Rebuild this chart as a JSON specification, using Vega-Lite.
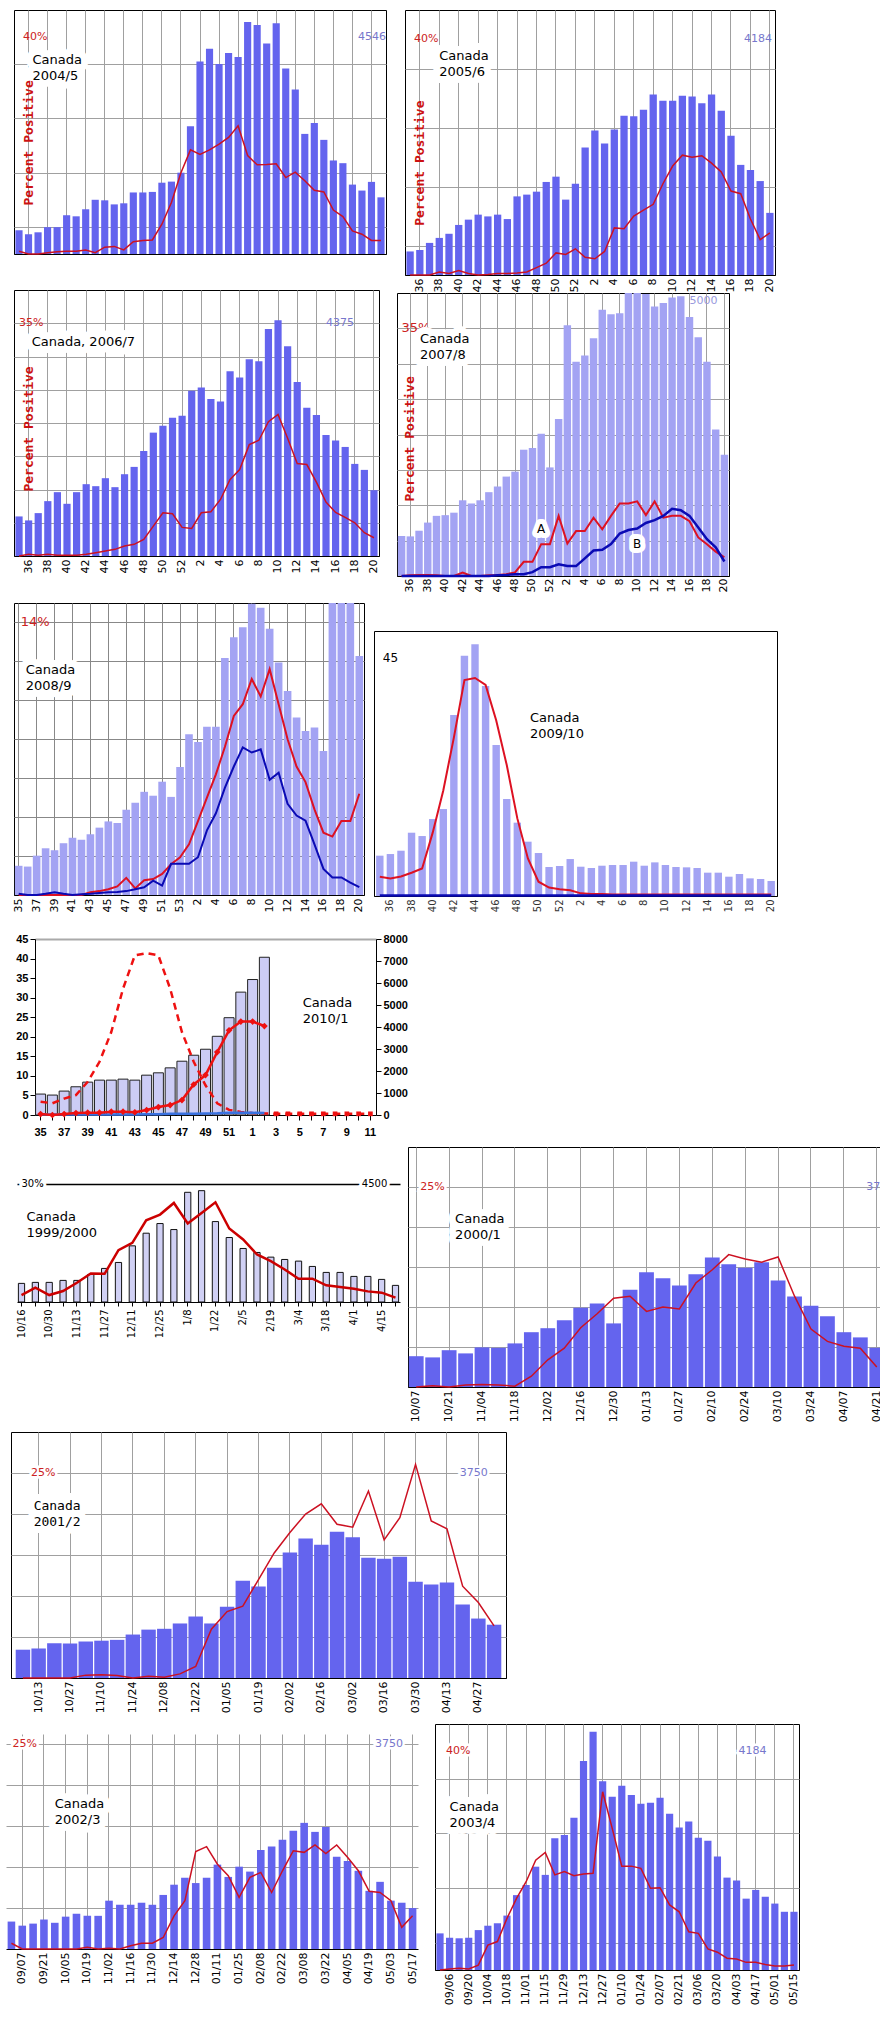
{
  "$schema": "https://vega.github.io/schema/vega-lite/v6.json",
  "background": "white",
  "padding": {"left": 3, "top": 7, "right": 0, "bottom": 0},
  "config": {"view": {"stroke": null}, "line": {"interpolate": "linear"}},
  "datasets": {
    "p1": [
      {"w":"35","b":0.88,"r":0.1},{"w":"36","b":0.73,"r":0},{"w":"37","b":0.8,"r":0},{"w":"38","b":0.99,"r":0.05},{"w":"39","b":0.99,"r":0.08},{"w":"40","b":1.43,"r":0.1},{"w":"41","b":1.39,"r":0.1},{"w":"42","b":1.65,"r":0.15},{"w":"43","b":2.0,"r":0.05},{"w":"44","b":1.98,"r":0.25},{"w":"45","b":1.83,"r":0.28},{"w":"46","b":1.87,"r":0.15},{"w":"47","b":2.27,"r":0.45},{"w":"48","b":2.27,"r":0.5},{"w":"49","b":2.29,"r":0.52},{"w":"50","b":2.63,"r":1.1},{"w":"51","b":2.67,"r":1.9},{"w":"52","b":3.0,"r":3.0},{"w":"53","b":4.71,"r":3.84},{"w":"1","b":7.1,"r":3.67},{"w":"2","b":7.57,"r":3.84},{"w":"3","b":7.01,"r":4.05},{"w":"4","b":7.41,"r":4.3},{"w":"5","b":7.27,"r":4.73},{"w":"6","b":8.56,"r":3.63},{"w":"7","b":8.45,"r":3.29},{"w":"8","b":7.76,"r":3.3},{"w":"9","b":8.51,"r":3.33},{"w":"10","b":6.84,"r":2.82},{"w":"11","b":6.07,"r":3.02},{"w":"12","b":4.43,"r":2.7},{"w":"13","b":4.83,"r":2.35},{"w":"14","b":4.21,"r":2.29},{"w":"15","b":3.45,"r":1.62},{"w":"16","b":3.35,"r":1.38},{"w":"17","b":2.56,"r":0.85},{"w":"18","b":2.34,"r":0.73},{"w":"19","b":2.66,"r":0.5},{"w":"20","b":2.09,"r":0.5}
    ],
    "p2": [
      {"w":"35","b":0.8,"r":0},{"w":"36","b":0.85,"r":0},{"w":"37","b":1.09,"r":0},{"w":"38","b":1.26,"r":0.1},{"w":"39","b":1.4,"r":0.05},{"w":"40","b":1.7,"r":0.15},{"w":"41","b":1.88,"r":0.05},{"w":"42","b":2.05,"r":0},{"w":"43","b":1.99,"r":0.02},{"w":"44","b":2.05,"r":0.05},{"w":"45","b":1.9,"r":0.05},{"w":"46","b":2.67,"r":0.07},{"w":"47","b":2.73,"r":0.1},{"w":"48","b":2.83,"r":0.25},{"w":"49","b":3.16,"r":0.4},{"w":"50","b":3.34,"r":0.75},{"w":"51","b":2.56,"r":0.7},{"w":"52","b":3.1,"r":0.89},{"w":"1","b":4.33,"r":0.6},{"w":"2","b":4.91,"r":0.55},{"w":"3","b":4.47,"r":0.8},{"w":"4","b":4.94,"r":1.6},{"w":"5","b":5.41,"r":1.57},{"w":"6","b":5.39,"r":2.0},{"w":"7","b":5.61,"r":2.2},{"w":"8","b":6.13,"r":2.4},{"w":"9","b":5.92,"r":3.1},{"w":"10","b":5.92,"r":3.7},{"w":"11","b":6.09,"r":4.07},{"w":"12","b":6.06,"r":4.0},{"w":"13","b":5.83,"r":4.05},{"w":"14","b":6.13,"r":3.8},{"w":"15","b":5.58,"r":3.5},{"w":"16","b":4.73,"r":2.85},{"w":"17","b":3.74,"r":2.76},{"w":"18","b":3.57,"r":1.9},{"w":"19","b":3.19,"r":1.2},{"w":"20","b":2.11,"r":1.43}
    ],
    "p3": [
      {"w":"35","b":1.19,"r":0},{"w":"36","b":1.07,"r":0.05},{"w":"37","b":1.29,"r":0.02},{"w":"38","b":1.65,"r":0.05},{"w":"39","b":1.92,"r":0.02},{"w":"40","b":1.57,"r":0.02},{"w":"41","b":1.92,"r":0.02},{"w":"42","b":2.16,"r":0.05},{"w":"43","b":2.1,"r":0.1},{"w":"44","b":2.34,"r":0.15},{"w":"45","b":2.07,"r":0.2},{"w":"46","b":2.46,"r":0.3},{"w":"47","b":2.68,"r":0.35},{"w":"48","b":3.16,"r":0.5},{"w":"49","b":3.71,"r":0.9},{"w":"50","b":3.92,"r":1.3},{"w":"51","b":4.16,"r":1.27},{"w":"52","b":4.22,"r":0.86},{"w":"1","b":4.97,"r":0.83},{"w":"2","b":5.07,"r":1.3},{"w":"3","b":4.72,"r":1.33},{"w":"4","b":4.65,"r":1.7},{"w":"5","b":5.56,"r":2.3},{"w":"6","b":5.37,"r":2.6},{"w":"7","b":5.92,"r":3.35},{"w":"8","b":5.86,"r":3.48},{"w":"9","b":6.83,"r":4.04},{"w":"10","b":7.09,"r":4.26},{"w":"11","b":6.31,"r":3.54},{"w":"12","b":5.23,"r":2.78},{"w":"13","b":4.46,"r":2.75},{"w":"14","b":4.24,"r":2.22},{"w":"15","b":3.64,"r":1.62},{"w":"16","b":3.47,"r":1.31},{"w":"17","b":3.28,"r":1.16},{"w":"18","b":2.77,"r":1.0},{"w":"19","b":2.59,"r":0.7},{"w":"20","b":1.98,"r":0.55}
    ],
    "p4": [
      {"w":"35","b":1.13,"r":0,"u":0},{"w":"36","b":1.12,"r":0.02,"u":0},{"w":"37","b":1.28,"r":0.03,"u":0},{"w":"38","b":1.51,"r":0.03,"u":0},{"w":"39","b":1.7,"r":0.02,"u":0},{"w":"40","b":1.72,"r":0,"u":0},{"w":"41","b":1.79,"r":0,"u":0},{"w":"42","b":2.14,"r":0.1,"u":0},{"w":"43","b":2.05,"r":0,"u":0},{"w":"44","b":2.14,"r":0,"u":0},{"w":"45","b":2.37,"r":0.02,"u":0},{"w":"46","b":2.53,"r":0.03,"u":0.02},{"w":"47","b":2.81,"r":0.05,"u":0.03},{"w":"48","b":2.95,"r":0.1,"u":0.05},{"w":"49","b":3.57,"r":0.4,"u":0.05},{"w":"50","b":3.62,"r":0.4,"u":0.11},{"w":"51","b":4.02,"r":0.9,"u":0.25},{"w":"52","b":3.07,"r":0.9,"u":0.25},{"w":"1","b":4.44,"r":1.7,"u":0.33},{"w":"2","b":7.09,"r":0.92,"u":0.28},{"w":"3","b":6.06,"r":1.27,"u":0.28},{"w":"4","b":6.23,"r":1.27,"u":0.5},{"w":"5","b":6.72,"r":1.65,"u":0.72},{"w":"6","b":7.53,"r":1.32,"u":0.74},{"w":"7","b":7.4,"r":1.7,"u":0.9},{"w":"8","b":7.43,"r":2.05,"u":1.2},{"w":"9","b":8.04,"r":2.05,"u":1.3},{"w":"10","b":8.04,"r":2.11,"u":1.34},{"w":"11","b":7.97,"r":1.72,"u":1.5},{"w":"12","b":7.62,"r":2.11,"u":1.58},{"w":"13","b":7.72,"r":1.65,"u":1.7},{"w":"14","b":7.87,"r":1.7,"u":1.9},{"w":"15","b":7.91,"r":1.7,"u":1.86},{"w":"16","b":7.32,"r":1.55,"u":1.7},{"w":"17","b":6.75,"r":1.09,"u":1.37},{"w":"18","b":6.06,"r":0.9,"u":1.04},{"w":"19","b":4.14,"r":0.69,"u":0.81},{"w":"20","b":3.43,"r":0.53,"u":0.41}
    ],
    "p5": [
      {"w":"35","b":0.75,"r":0,"u":0.03},{"w":"36","b":0.73,"r":0,"u":0},{"w":"37","b":1.01,"r":0,"u":0},{"w":"38","b":1.2,"r":0,"u":0.03},{"w":"39","b":1.15,"r":0,"u":0.07},{"w":"40","b":1.33,"r":0,"u":0.03},{"w":"41","b":1.47,"r":0,"u":0},{"w":"42","b":1.42,"r":0,"u":0.02},{"w":"43","b":1.56,"r":0.07,"u":0.03},{"w":"44","b":1.73,"r":0.1,"u":0.05},{"w":"45","b":1.89,"r":0.15,"u":0.07},{"w":"46","b":1.85,"r":0.22,"u":0.08},{"w":"47","b":2.19,"r":0.44,"u":0.1},{"w":"48","b":2.37,"r":0.17,"u":0.15},{"w":"49","b":2.65,"r":0.38,"u":0.2},{"w":"50","b":2.55,"r":0.41,"u":0.37},{"w":"51","b":2.91,"r":0.54,"u":0.24},{"w":"52","b":2.52,"r":0.79,"u":0.8},{"w":"53","b":3.29,"r":0.97,"u":0.8},{"w":"1","b":4.13,"r":1.3,"u":0.8},{"w":"2","b":3.93,"r":1.9,"u":0.97},{"w":"3","b":4.32,"r":2.5,"u":1.66},{"w":"4","b":4.32,"r":3.1,"u":2.1},{"w":"5","b":6.09,"r":3.8,"u":2.75},{"w":"6","b":6.62,"r":4.6,"u":3.3},{"w":"7","b":6.88,"r":4.9,"u":3.79},{"w":"8","b":7.48,"r":5.55,"u":3.66},{"w":"9","b":7.38,"r":5.1,"u":3.74},{"w":"10","b":6.84,"r":5.8,"u":2.96},{"w":"11","b":5.97,"r":4.9,"u":3.14},{"w":"12","b":5.24,"r":4.0,"u":2.34},{"w":"13","b":4.56,"r":3.3,"u":2.04},{"w":"14","b":4.21,"r":2.9,"u":1.91},{"w":"15","b":4.3,"r":2.2,"u":1.3},{"w":"16","b":3.7,"r":1.6,"u":0.67},{"w":"17","b":8,"r":1.5,"u":0.45},{"w":"18","b":8,"r":1.9,"u":0.45},{"w":"19","b":8,"r":1.9,"u":0.32},{"w":"20","b":6.14,"r":2.6,"u":0.2}
    ],
    "p6": [
      {"w":"35","b":7.64,"r":3.66,"u":0.1},{"w":"36","b":7.95,"r":3.34,"u":0.1},{"w":"37","b":8.58,"r":3.7,"u":0.1},{"w":"38","b":11.99,"r":4.4,"u":0.1},{"w":"39","b":11.36,"r":5.2,"u":0.1},{"w":"40","b":14.58,"r":12,"u":0.1},{"w":"41","b":16.47,"r":20,"u":0.1},{"w":"42","b":34.27,"r":30,"u":0.1},{"w":"43","b":45.5,"r":40.9,"u":0.1},{"w":"44","b":47.7,"r":41.3,"u":0.1},{"w":"45","b":39.8,"r":40,"u":0.1},{"w":"46","b":28.59,"r":33.3,"u":0.1},{"w":"47","b":18.37,"r":24.8,"u":0.1},{"w":"48","b":13.89,"r":14.7,"u":0.1},{"w":"49","b":10.29,"r":7.1,"u":0.1},{"w":"50","b":8.14,"r":2.7,"u":0.1},{"w":"51","b":5.49,"r":1.6,"u":0.1},{"w":"52","b":5.68,"r":1.3,"u":0.1},{"w":"1","b":7.0,"r":1.1,"u":0.1},{"w":"2","b":5.55,"r":0.5,"u":0.1},{"w":"3","b":5.3,"r":0.4,"u":0.1},{"w":"4","b":5.74,"r":0.4,"u":0.1},{"w":"5","b":5.87,"r":0.3,"u":0.1},{"w":"6","b":5.87,"r":0.3,"u":0.1},{"w":"7","b":6.5,"r":0.3,"u":0.1},{"w":"8","b":5.74,"r":0.3,"u":0.1},{"w":"9","b":6.37,"r":0.3,"u":0.1},{"w":"10","b":5.87,"r":0.3,"u":0.1},{"w":"11","b":5.49,"r":0.3,"u":0.1},{"w":"12","b":5.43,"r":0.3,"u":0.1},{"w":"13","b":5.3,"r":0.3,"u":0.1},{"w":"14","b":4.42,"r":0.3,"u":0.1},{"w":"15","b":4.42,"r":0.3,"u":0.1},{"w":"16","b":3.66,"r":0.3,"u":0.1},{"w":"17","b":4.17,"r":0.3,"u":0.1},{"w":"18","b":3.34,"r":0.3,"u":0.1},{"w":"19","b":3.22,"r":0.3,"u":0.1},{"w":"20","b":2.84,"r":0.3,"u":0.1}
    ],
    "p7": [
      {"w":"35","b":951,"s":0.25,"d":3.4,"u":0.1},{"w":"36","b":906,"s":0,"d":3.0,"u":0.1},{"w":"37","b":1087,"s":0.25,"d":4.2,"u":0.1},{"w":"38","b":1283,"s":0.5,"d":5.1,"u":0.1},{"w":"39","b":1494,"s":0.6,"d":8.5,"u":0.1},{"w":"40","b":1585,"s":0.6,"d":13.6,"u":0.1},{"w":"41","b":1585,"s":0.85,"d":21.2,"u":0.1},{"w":"42","b":1630,"s":0.85,"d":32.3,"u":0.15},{"w":"43","b":1585,"s":0.7,"d":40.8,"u":0.15},{"w":"44","b":1811,"s":1.27,"d":41.4,"u":0.2},{"w":"45","b":1917,"s":2.04,"d":40.8,"u":0.2},{"w":"46","b":2143,"s":2.55,"d":32.3,"u":0.3},{"w":"47","b":2445,"s":3.82,"d":21.2,"u":0.35},{"w":"48","b":2717,"s":7.8,"d":13.6,"u":0.35},{"w":"49","b":2989,"s":10.2,"d":7.6,"u":0.4},{"w":"50","b":3577,"s":16.1,"d":3.0,"u":0.45},{"w":"51","b":4423,"s":21.65,"d":1.3,"u":0.6},{"w":"52","b":5585,"s":23.9,"d":0.8,"u":0.6},{"w":"1","b":6158,"s":23.9,"d":0.5,"u":0.55},{"w":"2","b":7170,"s":22.75,"d":0.4,"u":0.5},{"w":"3","d":0.3},{"w":"4","d":0.3},{"w":"5","d":0.3},{"w":"6","d":0.3},{"w":"7","d":0.3},{"w":"8","d":0.3},{"w":"9","d":0.3},{"w":"10","d":0.3},{"w":"11","d":0.3}
    ],
    "p8": [
      {"w":"10/16","b":710,"r":1.77},{"w":"10/23","b":748,"r":3.63},{"w":"10/30","b":748,"r":1.77},{"w":"11/6","b":824,"r":2.79},{"w":"11/13","b":824,"r":4.9},{"w":"11/20","b":1052,"r":7.27},{"w":"11/27","b":1280,"r":7.18},{"w":"12/4","b":1508,"r":13.18},{"w":"12/11","b":2142,"r":15.04},{"w":"12/18","b":2624,"r":20.79},{"w":"12/25","b":2992,"r":22.23},{"w":"1/1","b":2763,"r":25.18},{"w":"1/8","b":4183,"r":19.94},{"w":"1/15","b":4246,"r":22.65},{"w":"1/22","b":3067,"r":25.35},{"w":"1/29","b":2459,"r":18.68},{"w":"2/5","b":2041,"r":15.89},{"w":"2/12","b":1889,"r":12.08},{"w":"2/19","b":1711,"r":10.39},{"w":"2/26","b":1622,"r":8.28},{"w":"3/4","b":1559,"r":5.92},{"w":"3/11","b":1356,"r":5.92},{"w":"3/18","b":1128,"r":4.23},{"w":"3/25","b":1128,"r":3.8},{"w":"4/1","b":976,"r":3.38},{"w":"4/8","b":976,"r":2.7},{"w":"4/15","b":862,"r":2.37},{"w":"4/22","b":634,"r":1.1}
    ],
    "p9": [
      {"w":"10/07","b":0.77,"r":0},{"w":"10/14","b":0.74,"r":0.03},{"w":"10/21","b":0.92,"r":0},{"w":"10/28","b":0.84,"r":0.05},{"w":"11/04","b":0.99,"r":0.06},{"w":"11/11","b":0.98,"r":0.05},{"w":"11/18","b":1.09,"r":0.02},{"w":"11/25","b":1.37,"r":0.27},{"w":"12/02","b":1.47,"r":0.68},{"w":"12/09","b":1.67,"r":0.97},{"w":"12/16","b":1.98,"r":1.48},{"w":"12/23","b":2.09,"r":1.83},{"w":"12/30","b":1.59,"r":2.22},{"w":"01/06","b":2.43,"r":2.27},{"w":"01/13","b":2.87,"r":1.89},{"w":"01/20","b":2.72,"r":2.0},{"w":"01/27","b":2.54,"r":1.95},{"w":"02/03","b":2.82,"r":2.6},{"w":"02/10","b":3.24,"r":2.93},{"w":"02/17","b":3.07,"r":3.31},{"w":"02/24","b":2.98,"r":3.2},{"w":"03/03","b":3.12,"r":3.12},{"w":"03/10","b":2.66,"r":3.25},{"w":"03/17","b":2.26,"r":2.27},{"w":"03/24","b":2.03,"r":1.45},{"w":"03/31","b":1.77,"r":1.14},{"w":"04/07","b":1.37,"r":1.02},{"w":"04/14","b":1.24,"r":0.97},{"w":"04/21","b":0.98,"r":0.5}
    ],
    "p10": [
      {"w":"10/06","b":0.69,"r":0},{"w":"10/13","b":0.72,"r":0},{"w":"10/20","b":0.85,"r":0},{"w":"10/27","b":0.84,"r":0},{"w":"11/03","b":0.89,"r":0.07},{"w":"11/10","b":0.91,"r":0.08},{"w":"11/17","b":0.93,"r":0.06},{"w":"11/24","b":1.06,"r":0},{"w":"12/01","b":1.18,"r":0.04},{"w":"12/08","b":1.2,"r":0.02},{"w":"12/15","b":1.33,"r":0.1},{"w":"12/22","b":1.5,"r":0.28},{"w":"12/29","b":1.33,"r":1.19},{"w":"01/05","b":1.74,"r":1.62},{"w":"01/12","b":2.37,"r":1.75},{"w":"01/19","b":2.23,"r":2.4},{"w":"01/26","b":2.69,"r":3.05},{"w":"02/02","b":3.06,"r":3.55},{"w":"02/09","b":3.4,"r":4.0},{"w":"02/16","b":3.25,"r":4.25},{"w":"02/23","b":3.57,"r":3.75},{"w":"03/02","b":3.43,"r":3.68},{"w":"03/09","b":2.93,"r":4.56},{"w":"03/16","b":2.91,"r":3.37},{"w":"03/23","b":2.96,"r":3.91},{"w":"03/30","b":2.35,"r":5.21},{"w":"04/06","b":2.28,"r":3.83},{"w":"04/13","b":2.33,"r":3.64},{"w":"04/20","b":1.79,"r":2.24},{"w":"04/27","b":1.45,"r":1.84},{"w":"05/04","b":1.3,"r":1.27}
    ],
    "p11": [
      {"w":"08/31","b":0.67,"r":0.14},{"w":"09/07","b":0.57,"r":0},{"w":"09/14","b":0.62,"r":0},{"w":"09/21","b":0.72,"r":0},{"w":"09/28","b":0.64,"r":0},{"w":"10/05","b":0.79,"r":0},{"w":"10/12","b":0.86,"r":0},{"w":"10/19","b":0.81,"r":0.04},{"w":"10/26","b":0.81,"r":0},{"w":"11/02","b":1.18,"r":0.02},{"w":"11/09","b":1.08,"r":0},{"w":"11/16","b":1.08,"r":0.08},{"w":"11/23","b":1.13,"r":0.14},{"w":"11/30","b":1.08,"r":0.14},{"w":"12/07","b":1.32,"r":0.28},{"w":"12/14","b":1.57,"r":0.81},{"w":"12/21","b":1.74,"r":1.18},{"w":"12/28","b":1.61,"r":2.38},{"w":"01/04","b":1.74,"r":2.5},{"w":"01/11","b":2.06,"r":2.07},{"w":"01/18","b":1.76,"r":1.79},{"w":"01/25","b":2.01,"r":1.26},{"w":"02/01","b":1.89,"r":1.75},{"w":"02/08","b":2.42,"r":1.87},{"w":"02/15","b":2.5,"r":1.38},{"w":"02/22","b":2.67,"r":1.91},{"w":"03/01","b":2.89,"r":2.4},{"w":"03/08","b":3.08,"r":2.36},{"w":"03/15","b":2.86,"r":2.54},{"w":"03/22","b":2.98,"r":2.33},{"w":"03/29","b":2.25,"r":2.54},{"w":"04/05","b":2.15,"r":2.24},{"w":"04/12","b":1.91,"r":1.91},{"w":"04/19","b":1.42,"r":1.41},{"w":"04/26","b":1.64,"r":1.38},{"w":"05/03","b":1.18,"r":1.18},{"w":"05/10","b":1.13,"r":0.53},{"w":"05/17","b":1.0,"r":0.81}
    ],
    "p12": [
      {"w":"08/30","b":1.34,"r":0},{"w":"09/06","b":1.18,"r":0.04},{"w":"09/13","b":1.16,"r":0.06},{"w":"09/20","b":1.18,"r":0.04},{"w":"09/27","b":1.46,"r":0.18},{"w":"10/04","b":1.62,"r":0.91},{"w":"10/11","b":1.71,"r":1.04},{"w":"10/18","b":1.99,"r":1.89},{"w":"10/25","b":2.74,"r":2.62},{"w":"11/01","b":3.11,"r":3.23},{"w":"11/08","b":3.78,"r":4.02},{"w":"11/15","b":3.48,"r":4.3},{"w":"11/22","b":4.82,"r":3.48},{"w":"11/29","b":4.94,"r":3.6},{"w":"12/06","b":5.57,"r":3.45},{"w":"12/13","b":7.65,"r":3.51},{"w":"12/20","b":8.72,"r":3.54},{"w":"12/27","b":6.91,"r":6.52},{"w":"01/03","b":6.34,"r":5.18},{"w":"01/10","b":6.74,"r":3.8},{"w":"01/17","b":6.4,"r":3.8},{"w":"01/24","b":6.08,"r":3.72},{"w":"01/31","b":6.12,"r":2.99},{"w":"02/07","b":6.3,"r":3.01},{"w":"02/14","b":5.72,"r":2.38},{"w":"02/21","b":5.21,"r":2.13},{"w":"02/28","b":5.43,"r":1.4},{"w":"03/06","b":4.84,"r":1.34},{"w":"03/13","b":4.73,"r":0.77},{"w":"03/20","b":4.15,"r":0.65},{"w":"03/27","b":3.38,"r":0.43},{"w":"04/03","b":3.27,"r":0.4},{"w":"04/10","b":2.61,"r":0.28},{"w":"04/17","b":2.93,"r":0.28},{"w":"04/24","b":2.68,"r":0.2},{"w":"05/01","b":2.43,"r":0.15},{"w":"05/08","b":2.13,"r":0.15},{"w":"05/15","b":2.13,"r":0.18}
    ]
  },
  "vconcat": [
    {
      "hconcat": [
        {"data": {"values": [{}]}, "mark": {"type": "point", "opacity": 0}, "width": 3, "height": 1},
        {
          "vconcat": [
            {
              "width": 372, "height": 244, "view": {"stroke": "#000"},
              "data": {"name": "p1"},
              "encoding": {"x": {"field": "w", "type": "ordinal", "sort": null, "scale": {"paddingInner": 0.25, "paddingOuter": 0.15},
                "axis": {"title": null, "labels": false, "ticks": false, "domainColor": "#000", "grid": true, "gridColor": "#a0a0a0", "gridOpacity": {"condition": {"test": "round(datum.index*38)%2==1", "value": 1}, "value": 0}}}},
              "layer": [
                {"mark": {"type": "bar", "color": "#6464ee"}, "encoding": {"y": {"field": "b", "type": "quantitative", "scale": {"domain": [0, 9], "nice": false}, "axis": {"title": null, "labels": false, "ticks": false, "domain": false, "grid": true, "gridColor": "#a0a0a0", "values": [1, 2, 3, 4, 5, 6, 7, 8]}}}},
                {"mark": {"type": "line", "color": "#cc1122", "strokeWidth": 1.5}, "encoding": {"y": {"field": "r", "type": "quantitative"}}},
                {"transform": [{"filter": "datum.w=='35'"}], "mark": {"type": "text", "align": "left", "dx": 4, "font": "DejaVu Sans", "fontSize": 11, "color": "#cc2222"}, "encoding": {"y": {"datum": 8}, "text": {"value": "40%"}}},
                {"transform": [{"filter": "datum.w=='20'"}], "mark": {"type": "text", "align": "right", "dx": 5, "font": "DejaVu Sans", "fontSize": 11, "color": "#7777cc"}, "encoding": {"y": {"datum": 8}, "text": {"value": "4546"}}},
                {"transform": [{"filter": "datum.w=='36'"}], "mark": {"type": "text", "align": "left", "baseline": "top", "dx": 4, "font": "DejaVu Sans", "fontSize": 13, "lineHeight": 16, "stroke": "#fff", "strokeWidth": 14, "strokeJoin": "round"}, "encoding": {"y": {"datum": 7.38}, "text": {"value": ["Canada", "2004/5"]}}},
                {"transform": [{"filter": "datum.w=='36'"}], "mark": {"type": "text", "align": "left", "baseline": "top", "dx": 4, "font": "DejaVu Sans", "fontSize": 13, "lineHeight": 16, "color": "#000"}, "encoding": {"y": {"datum": 7.38}, "text": {"value": ["Canada", "2004/5"]}}},
                {"transform": [{"filter": "datum.w=='36'"}], "mark": {"type": "text", "angle": 270, "align": "center", "baseline": "middle", "font": "DejaVu Sans Mono", "fontWeight": "bold", "fontSize": 13, "color": "#cc1111"}, "encoding": {"y": {"datum": 4.1}, "text": {"value": "Percent Positive"}}}
              ]
            },
            {"data": {"values": [{}]}, "mark": {"type": "point", "opacity": 0}, "width": 1, "height": 31},
            {
              "width": 365, "height": 266, "view": {"stroke": "#000"},
              "data": {"name": "p3"},
              "encoding": {"x": {"field": "w", "type": "ordinal", "sort": null, "scale": {"paddingInner": 0.25, "paddingOuter": 0.15},
                "axis": {"title": null, "labelAngle": 270, "labelFont": "DejaVu Sans", "labelFontSize": 11, "labelPadding": 3, "ticks": false, "domainColor": "#000", "labelExpr": "round(datum.index*37)%2==1 ? datum.label : ''", "grid": true, "gridColor": "#a0a0a0", "gridOpacity": {"condition": {"test": "round(datum.index*37)%2==1", "value": 1}, "value": 0}}}},
              "layer": [
                {"mark": {"type": "bar", "color": "#6464ee"}, "encoding": {"y": {"field": "b", "type": "quantitative", "scale": {"domain": [0, 8], "nice": false}, "axis": {"title": null, "labels": false, "ticks": false, "domain": false, "grid": true, "gridColor": "#a0a0a0", "values": [1, 2, 3, 4, 5, 6, 7]}}}},
                {"mark": {"type": "line", "color": "#cc1122", "strokeWidth": 1.5}, "encoding": {"y": {"field": "r", "type": "quantitative"}}},
                {"transform": [{"filter": "datum.w=='35'"}], "mark": {"type": "text", "align": "left", "dx": 0, "font": "DejaVu Sans", "fontSize": 11, "color": "#cc2222"}, "encoding": {"y": {"datum": 7}, "text": {"value": "35%"}}},
                {"transform": [{"filter": "datum.w=='15'"}], "mark": {"type": "text", "align": "left", "font": "DejaVu Sans", "fontSize": 11, "color": "#7777cc"}, "encoding": {"y": {"datum": 7}, "text": {"value": "4375"}}},
                {"transform": [{"filter": "datum.w=='36'"}], "mark": {"type": "text", "align": "left", "baseline": "top", "dx": 3, "font": "DejaVu Sans", "fontSize": 13, "stroke": "#fff", "strokeWidth": 14, "strokeJoin": "round"}, "encoding": {"y": {"datum": 6.62}, "text": {"value": "Canada, 2006/7"}}},
                {"transform": [{"filter": "datum.w=='36'"}], "mark": {"type": "text", "align": "left", "baseline": "top", "dx": 3, "font": "DejaVu Sans", "fontSize": 13, "color": "#000"}, "encoding": {"y": {"datum": 6.62}, "text": {"value": "Canada, 2006/7"}}},
                {"transform": [{"filter": "datum.w=='36'"}], "mark": {"type": "text", "angle": 270, "align": "center", "baseline": "middle", "dx": -1, "font": "DejaVu Sans Mono", "fontWeight": "bold", "fontSize": 13, "color": "#cc1111"}, "encoding": {"y": {"datum": 3.85}, "text": {"value": "Percent Positive"}}}
              ]
            }
          ],
          "spacing": 0
        },
        {"data": {"values": [{}]}, "mark": {"type": "point", "opacity": 0}, "width": 1, "height": 1},
        {
          "vconcat": [
            {
              "hconcat": [
                {"data": {"values": [{}]}, "mark": {"type": "point", "opacity": 0}, "width": 5, "height": 1},
                {
                  "width": 370, "height": 265, "view": {"stroke": "#000"},
                  "data": {"name": "p2"},
                  "encoding": {"x": {"field": "w", "type": "ordinal", "sort": null, "scale": {"paddingInner": 0.25, "paddingOuter": 0.15},
                    "axis": {"title": null, "labelAngle": 270, "labelFont": "DejaVu Sans", "labelFontSize": 11, "labelPadding": 3, "ticks": false, "domainColor": "#000", "labelExpr": "round(datum.index*37)%2==1 ? datum.label : ''", "grid": true, "gridColor": "#a0a0a0", "gridOpacity": {"condition": {"test": "round(datum.index*37)%2==1", "value": 1}, "value": 0}}}},
                  "layer": [
                    {"mark": {"type": "bar", "color": "#6464ee"}, "encoding": {"y": {"field": "b", "type": "quantitative", "scale": {"domain": [0, 9], "nice": false}, "axis": {"title": null, "labels": false, "ticks": false, "domain": false, "grid": true, "gridColor": "#a0a0a0", "values": [1, 2, 3, 4, 5, 6, 7, 8]}}}},
                    {"mark": {"type": "line", "color": "#cc1122", "strokeWidth": 1.5}, "encoding": {"y": {"field": "r", "type": "quantitative"}}},
                    {"transform": [{"filter": "datum.w=='35'"}], "mark": {"type": "text", "align": "left", "dx": 4, "font": "DejaVu Sans", "fontSize": 11, "color": "#cc2222"}, "encoding": {"y": {"datum": 8}, "text": {"value": "40%"}}},
                    {"transform": [{"filter": "datum.w=='20'"}], "mark": {"type": "text", "align": "right", "dx": 2, "font": "DejaVu Sans", "fontSize": 11, "color": "#7777cc"}, "encoding": {"y": {"datum": 8}, "text": {"value": "4184"}}},
                    {"transform": [{"filter": "datum.w=='38'"}], "mark": {"type": "text", "align": "left", "baseline": "top", "font": "DejaVu Sans", "fontSize": 13, "lineHeight": 16, "stroke": "#fff", "strokeWidth": 14, "strokeJoin": "round"}, "encoding": {"y": {"datum": 7.64}, "text": {"value": ["Canada", "2005/6"]}}},
                    {"transform": [{"filter": "datum.w=='38'"}], "mark": {"type": "text", "align": "left", "baseline": "top", "font": "DejaVu Sans", "fontSize": 13, "lineHeight": 16, "color": "#000"}, "encoding": {"y": {"datum": 7.64}, "text": {"value": ["Canada", "2005/6"]}}},
                    {"transform": [{"filter": "datum.w=='36'"}], "mark": {"type": "text", "angle": 270, "align": "center", "baseline": "middle", "font": "DejaVu Sans Mono", "fontWeight": "bold", "fontSize": 13, "color": "#cc1111"}, "encoding": {"y": {"datum": 3.8}, "text": {"value": "Percent Positive"}}}
                  ]
                }
              ],
              "spacing": 0
            },
            {
              "width": 332, "height": 283, "view": {"stroke": "#000"},
              "data": {"name": "p4"},
              "encoding": {"x": {"field": "w", "type": "ordinal", "sort": null, "scale": {"paddingInner": 0.15, "paddingOuter": 0.1},
                "axis": {"title": null, "labelAngle": 270, "labelFont": "DejaVu Sans", "labelFontSize": 11, "labelPadding": 2, "ticks": false, "domainColor": "#000", "labelExpr": "round(datum.index*37)%2==1 ? datum.label : ''", "grid": true, "gridColor": "#a0a0a0", "gridOpacity": {"condition": {"test": "round(datum.index*37)%2==1", "value": 1}, "value": 0}}}},
              "layer": [
                {"mark": {"type": "bar", "color": "#a3a3f3", "clip": true}, "encoding": {"y": {"field": "b", "type": "quantitative", "scale": {"domain": [0, 8], "nice": false}, "axis": {"title": null, "labels": false, "ticks": false, "domain": false, "grid": true, "gridColor": "#a0a0a0", "values": [1, 2, 3, 4, 5, 6, 7]}}}},
                {"mark": {"type": "line", "color": "#dd1122", "strokeWidth": 2}, "encoding": {"y": {"field": "r", "type": "quantitative"}}},
                {"mark": {"type": "line", "color": "#0a0ab4", "strokeWidth": 2.5}, "encoding": {"y": {"field": "u", "type": "quantitative"}}},
                {"transform": [{"filter": "datum.w=='35'"}], "mark": {"type": "text", "align": "left", "font": "DejaVu Sans", "fontSize": 13, "color": "#cc2222"}, "encoding": {"y": {"datum": 7}, "text": {"value": "35%"}}},
                {"transform": [{"filter": "datum.w=='16'"}], "mark": {"type": "text", "align": "left", "baseline": "top", "font": "DejaVu Sans", "fontSize": 11, "color": "#9999dd"}, "encoding": {"y": {"datum": 7.95}, "text": {"value": "5000"}}},
                {"transform": [{"filter": "datum.w=='37'"}], "mark": {"type": "text", "align": "left", "baseline": "top", "dx": 1, "font": "DejaVu Sans", "fontSize": 13, "lineHeight": 16, "stroke": "#fff", "strokeWidth": 14, "strokeJoin": "round"}, "encoding": {"y": {"datum": 6.86}, "text": {"value": ["Canada", "2007/8"]}}},
                {"transform": [{"filter": "datum.w=='37'"}], "mark": {"type": "text", "align": "left", "baseline": "top", "dx": 1, "font": "DejaVu Sans", "fontSize": 13, "lineHeight": 16, "color": "#000"}, "encoding": {"y": {"datum": 6.86}, "text": {"value": ["Canada", "2007/8"]}}},
                {"transform": [{"filter": "datum.w=='36'"}], "mark": {"type": "text", "angle": 270, "align": "center", "baseline": "middle", "dx": 2, "font": "DejaVu Sans Mono", "fontWeight": "bold", "fontSize": 13, "color": "#cc1111"}, "encoding": {"y": {"datum": 3.82}, "text": {"value": "Percent Positive"}}},
                {"transform": [{"filter": "datum.w=='51'"}], "mark": {"type": "text", "font": "DejaVu Sans", "fontSize": 12, "stroke": "#fff", "strokeWidth": 10, "strokeJoin": "round"}, "encoding": {"y": {"datum": 1.32}, "text": {"value": "A"}}},
                {"transform": [{"filter": "datum.w=='51'"}], "mark": {"type": "text", "font": "DejaVu Sans", "fontSize": 12, "color": "#000"}, "encoding": {"y": {"datum": 1.32}, "text": {"value": "A"}}},
                {"transform": [{"filter": "datum.w=='10'"}], "mark": {"type": "text", "font": "DejaVu Sans", "fontSize": 12, "stroke": "#fff", "strokeWidth": 10, "strokeJoin": "round"}, "encoding": {"y": {"datum": 0.9}, "text": {"value": "B"}}},
                {"transform": [{"filter": "datum.w=='10'"}], "mark": {"type": "text", "font": "DejaVu Sans", "fontSize": 12, "color": "#000"}, "encoding": {"y": {"datum": 0.9}, "text": {"value": "B"}}}
              ]
            }
          ],
          "spacing": -10
        }
      ],
      "spacing": 0
    },
    {"data": {"values": [{}]}, "mark": {"type": "point", "opacity": 0}, "width": 1, "height": 1},
    {
      "hconcat": [
        {"data": {"values": [{}]}, "mark": {"type": "point", "opacity": 0}, "width": 3, "height": 1},
        {
          "width": 350, "height": 292, "view": {"stroke": "#000"},
          "data": {"name": "p5"},
          "encoding": {"x": {"field": "w", "type": "ordinal", "sort": null, "scale": {"paddingInner": 0.15, "paddingOuter": 0.1},
            "axis": {"title": null, "labelAngle": 270, "labelFont": "DejaVu Sans", "labelFontSize": 11, "labelPadding": 3, "ticks": false, "domainColor": "#000", "labelExpr": "round(datum.index*38)%2==0 ? datum.label : ''", "grid": true, "gridColor": "#888", "gridOpacity": {"condition": {"test": "round(datum.index*38)%2==0", "value": 1}, "value": 0}}}},
          "layer": [
            {"mark": {"type": "bar", "color": "#a3a3f3", "clip": true}, "encoding": {"y": {"field": "b", "type": "quantitative", "scale": {"domain": [0, 7.5], "nice": false}, "axis": {"title": null, "labels": false, "ticks": false, "domain": false, "grid": true, "gridColor": "#888", "values": [1, 2, 3, 4, 5, 6, 7]}}}},
            {"mark": {"type": "line", "color": "#dd1122", "strokeWidth": 2}, "encoding": {"y": {"field": "r", "type": "quantitative"}}},
            {"mark": {"type": "line", "color": "#0a0ab4", "strokeWidth": 2}, "encoding": {"y": {"field": "u", "type": "quantitative"}}},
            {"transform": [{"filter": "datum.w=='35'"}], "mark": {"type": "text", "align": "left", "dx": 2, "font": "DejaVu Sans", "fontSize": 13, "color": "#cc2222"}, "encoding": {"y": {"datum": 7}, "text": {"value": "14%"}}},
            {"transform": [{"filter": "datum.w=='36'"}], "mark": {"type": "text", "align": "left", "baseline": "top", "dx": -2, "font": "DejaVu Sans", "fontSize": 13, "lineHeight": 16, "stroke": "#fff", "strokeWidth": 14, "strokeJoin": "round"}, "encoding": {"y": {"datum": 5.93}, "text": {"value": ["Canada", "2008/9"]}}},
            {"transform": [{"filter": "datum.w=='36'"}], "mark": {"type": "text", "align": "left", "baseline": "top", "dx": -2, "font": "DejaVu Sans", "fontSize": 13, "lineHeight": 16, "color": "#000"}, "encoding": {"y": {"datum": 5.93}, "text": {"value": ["Canada", "2008/9"]}}}
          ]
        },
        {"data": {"values": [{}]}, "mark": {"type": "point", "opacity": 0}, "width": 2, "height": 1},
        {
          "vconcat": [
            {"data": {"values": [{}]}, "mark": {"type": "point", "opacity": 0}, "width": 1, "height": 27},
            {
              "width": 403, "height": 265, "view": {"stroke": "#000"},
              "data": {"name": "p6"},
              "encoding": {"x": {"field": "w", "type": "ordinal", "sort": null, "scale": {"paddingInner": 0.3, "paddingOuter": 0.2},
                "axis": {"title": null, "labelAngle": 270, "labelFont": "DejaVu Sans", "labelFontSize": 10, "labelColor": "#333", "labelPadding": 3, "ticks": false, "domainColor": "#000", "labelExpr": "round(datum.index*37)%2==1 ? datum.label : ''"}}},
              "layer": [
                {"mark": {"type": "bar", "color": "#a3a3f3"}, "encoding": {"y": {"field": "b", "type": "quantitative", "scale": {"domain": [0, 50.2], "nice": false}, "axis": null}}},
                {"mark": {"type": "line", "color": "#dd1122", "strokeWidth": 2}, "encoding": {"y": {"field": "r", "type": "quantitative"}}},
                {"mark": {"type": "line", "color": "#0a0ab4", "strokeWidth": 2.5}, "encoding": {"y": {"field": "u", "type": "quantitative"}}},
                {"transform": [{"filter": "datum.w=='35'"}], "mark": {"type": "text", "align": "left", "dx": 3, "font": "DejaVu Sans", "fontSize": 12, "color": "#000"}, "encoding": {"y": {"datum": 45}, "text": {"value": "45"}}},
                {"transform": [{"filter": "datum.w=='49'"}], "mark": {"type": "text", "align": "left", "baseline": "top", "dx": 2, "font": "DejaVu Sans", "fontSize": 13, "lineHeight": 16, "color": "#000"}, "encoding": {"y": {"datum": 34.9}, "text": {"value": ["Canada", "2009/10"]}}}
              ]
            }
          ],
          "spacing": 0
        }
      ],
      "spacing": 0
    },
    {"data": {"values": [{}]}, "mark": {"type": "point", "opacity": 0}, "width": 1, "height": 20},
    {
      "hconcat": [
        {"data": {"values": [{}]}, "mark": {"type": "point", "opacity": 0}, "width": 9, "height": 1},
        {
          "width": 341, "height": 176,
          "data": {"name": "p7"},
          "encoding": {"x": {"field": "w", "type": "ordinal", "sort": null, "scale": {"paddingInner": 0.15, "paddingOuter": 0.05},
            "axis": {"title": null, "labelAngle": 0, "labelFont": "Liberation Sans", "labelFontWeight": "bold", "labelFontSize": 11, "labelPadding": 6, "tickColor": "#000", "domainColor": "#000", "labelExpr": "round(datum.index*28)%2==0 ? datum.label : ''"}}},
          "layer": [
            {"mark": {"type": "bar", "color": "#ccccf5", "stroke": "#222", "strokeWidth": 1}, "encoding": {"y": {"field": "b", "type": "quantitative", "scale": {"domain": [0, 8000], "nice": false}, "axis": {"orient": "right", "title": null, "format": "d", "values": [0, 1000, 2000, 3000, 4000, 5000, 6000, 7000, 8000], "labelFont": "Liberation Sans", "labelFontWeight": "bold", "labelFontSize": 11, "domainColor": "#000", "tickColor": "#000", "grid": false}}}},
            {"mark": {"type": "line", "color": "#ee1111", "strokeWidth": 2.5, "strokeDash": [7, 5]}, "encoding": {"y": {"field": "d", "type": "quantitative", "scale": {"domain": [0, 45], "nice": false}, "axis": {"orient": "left", "title": null, "values": [0, 5, 10, 15, 20, 25, 30, 35, 40, 45], "labelFont": "Liberation Sans", "labelFontWeight": "bold", "labelFontSize": 11, "domainColor": "#000", "tickColor": "#000", "grid": true, "gridColor": "#aaa", "gridWidth": 2, "gridOpacity": {"condition": {"test": "datum.value==45", "value": 1}, "value": 0}}}}},
            {"transform": [{"filter": "datum.b == null"}], "mark": {"type": "point", "shape": "square", "filled": true, "color": "#ee1111", "size": 22, "opacity": 1}, "encoding": {"y": {"field": "d", "type": "quantitative", "scale": {"domain": [0, 45], "nice": false}, "axis": null}}},
            {"mark": {"type": "line", "color": "#3a72e0", "strokeWidth": 2.5}, "encoding": {"y": {"field": "u", "type": "quantitative", "scale": {"domain": [0, 45], "nice": false}, "axis": null}}},
            {"mark": {"type": "line", "color": "#ee1111", "strokeWidth": 2.5}, "encoding": {"y": {"field": "s", "type": "quantitative", "scale": {"domain": [0, 45], "nice": false}, "axis": null}}},
            {"mark": {"type": "point", "shape": "diamond", "filled": true, "color": "#ee1111", "size": 45, "opacity": 1}, "encoding": {"y": {"field": "s", "type": "quantitative", "scale": {"domain": [0, 45], "nice": false}, "axis": null}}},
            {"transform": [{"filter": "datum.w=='5'"}], "mark": {"type": "text", "align": "left", "baseline": "top", "dx": 3, "font": "DejaVu Sans", "fontSize": 13, "lineHeight": 16, "color": "#000"}, "encoding": {"y": {"datum": 30.2, "scale": {"domain": [0, 45], "nice": false}, "axis": null}, "text": {"value": ["Canada", "2010/1"]}}}
          ],
          "resolve": {"scale": {"y": "independent"}, "axis": {"y": "independent"}}
        }
      ],
      "spacing": 0
    },
    {"data": {"values": [{}]}, "mark": {"type": "point", "opacity": 0}, "width": 1, "height": 1},
    {
      "hconcat": [
        {"data": {"values": [{}]}, "mark": {"type": "point", "opacity": 0}, "width": 8, "height": 1},
        {
          "vconcat": [
            {"data": {"values": [{}]}, "mark": {"type": "point", "opacity": 0}, "width": 1, "height": 32},
            {
              "width": 383, "height": 118,
              "data": {"name": "p8"},
              "encoding": {"x": {"field": "w", "type": "ordinal", "sort": null, "scale": {"paddingInner": 0.55, "paddingOuter": 0.1},
                "axis": {"title": null, "labelAngle": 270, "labelFont": "DejaVu Sans", "labelFontSize": 10, "labelPadding": 3, "tickColor": "#000", "tickSize": 4, "domainColor": "#000", "labelExpr": "round(datum.index*27)%2==0 ? datum.label : ''"}}},
              "layer": [
                {"mark": {"type": "bar", "color": "#d0d0f4", "stroke": "#111", "strokeWidth": 1}, "encoding": {"y": {"field": "b", "type": "quantitative", "scale": {"domain": [0, 4500], "nice": false}, "axis": {"title": null, "labels": false, "ticks": false, "domain": false, "grid": true, "gridColor": "#000", "gridWidth": 1.5, "values": [4500]}}}},
                {"mark": {"type": "line", "color": "#cc0000", "strokeWidth": 2.5}, "encoding": {"y": {"field": "r", "type": "quantitative", "scale": {"domain": [0, 30], "nice": false}, "axis": null}}},
                {"transform": [{"filter": "datum.w=='10/16'"}], "mark": {"type": "text", "align": "left", "baseline": "middle", "font": "DejaVu Sans", "fontSize": 10, "stroke": "#fff", "strokeWidth": 6}, "encoding": {"y": {"datum": 30, "scale": {"domain": [0, 30], "nice": false}, "axis": null}, "text": {"value": "30%"}}},
                {"transform": [{"filter": "datum.w=='10/16'"}], "mark": {"type": "text", "align": "left", "baseline": "middle", "font": "DejaVu Sans", "fontSize": 10, "color": "#000"}, "encoding": {"y": {"datum": 30, "scale": {"domain": [0, 30], "nice": false}, "axis": null}, "text": {"value": "30%"}}},
                {"transform": [{"filter": "datum.w=='4/8'"}], "mark": {"type": "text", "align": "left", "baseline": "middle", "dx": -6, "font": "DejaVu Sans", "fontSize": 10, "stroke": "#fff", "strokeWidth": 6}, "encoding": {"y": {"datum": 30, "scale": {"domain": [0, 30], "nice": false}, "axis": null}, "text": {"value": "4500"}}},
                {"transform": [{"filter": "datum.w=='4/8'"}], "mark": {"type": "text", "align": "left", "baseline": "middle", "dx": -6, "font": "DejaVu Sans", "fontSize": 10, "color": "#000"}, "encoding": {"y": {"datum": 30, "scale": {"domain": [0, 30], "nice": false}, "axis": null}, "text": {"value": "4500"}}},
                {"transform": [{"filter": "datum.w=='10/16'"}], "mark": {"type": "text", "align": "left", "baseline": "top", "dx": 5, "font": "DejaVu Sans", "fontSize": 13, "lineHeight": 16, "color": "#000"}, "encoding": {"y": {"datum": 23.1, "scale": {"domain": [0, 30], "nice": false}, "axis": null}, "text": {"value": ["Canada", "1999/2000"]}}}
              ],
              "resolve": {"scale": {"y": "independent"}, "axis": {"y": "independent"}}
            }
          ],
          "spacing": 0
        },
        {"data": {"values": [{}]}, "mark": {"type": "point", "opacity": 0}, "width": 6, "height": 1},
        {
          "width": 477, "height": 240, "view": {"stroke": "#000"},
          "data": {"name": "p9"},
          "encoding": {"x": {"field": "w", "type": "ordinal", "sort": null, "scale": {"paddingInner": 0.1, "paddingOuter": 0.05},
            "axis": {"title": null, "labelAngle": 270, "labelFont": "DejaVu Sans", "labelFontSize": 11, "labelPadding": 3, "ticks": false, "domainColor": "#000", "labelExpr": "round(datum.index*28)%2==0 ? datum.label : ''", "grid": true, "gridColor": "#a0a0a0", "gridOpacity": {"condition": {"test": "round(datum.index*28)%2==0", "value": 1}, "value": 0}}}},
          "layer": [
            {"mark": {"type": "bar", "color": "#6464ee"}, "encoding": {"y": {"field": "b", "type": "quantitative", "scale": {"domain": [0, 6], "nice": false}, "axis": {"title": null, "labels": false, "ticks": false, "domain": false, "grid": true, "gridColor": "#a0a0a0", "values": [1, 2, 3, 4, 5]}}}},
            {"mark": {"type": "line", "color": "#cc1122", "strokeWidth": 1.5}, "encoding": {"y": {"field": "r", "type": "quantitative"}}},
            {"transform": [{"filter": "datum.w=='10/07'"}], "mark": {"type": "text", "align": "left", "dx": 4, "font": "DejaVu Sans", "fontSize": 11, "stroke": "#fff", "strokeWidth": 5}, "encoding": {"y": {"datum": 5}, "text": {"value": "25%"}}},
            {"transform": [{"filter": "datum.w=='10/07'"}], "mark": {"type": "text", "align": "left", "dx": 4, "font": "DejaVu Sans", "fontSize": 11, "color": "#cc2222"}, "encoding": {"y": {"datum": 5}, "text": {"value": "25%"}}},
            {"transform": [{"filter": "datum.w=='04/14'"}], "mark": {"type": "text", "align": "left", "dx": 6, "font": "DejaVu Sans", "fontSize": 11, "color": "#7777cc"}, "encoding": {"y": {"datum": 5}, "text": {"value": "3750"}}},
            {"transform": [{"filter": "datum.w=='10/21'"}], "mark": {"type": "text", "align": "left", "baseline": "top", "dx": 6, "font": "DejaVu Sans", "fontSize": 13, "lineHeight": 16, "stroke": "#fff", "strokeWidth": 14, "strokeJoin": "round"}, "encoding": {"y": {"datum": 4.35}, "text": {"value": ["Canada", "2000/1"]}}},
            {"transform": [{"filter": "datum.w=='10/21'"}], "mark": {"type": "text", "align": "left", "baseline": "top", "dx": 6, "font": "DejaVu Sans", "fontSize": 13, "lineHeight": 16, "color": "#000"}, "encoding": {"y": {"datum": 4.35}, "text": {"value": ["Canada", "2000/1"]}}}
          ]
        }
      ],
      "spacing": 0
    },
    {"data": {"values": [{}]}, "mark": {"type": "point", "opacity": 0}, "width": 1, "height": 4},
    {
      "hconcat": [
        {"data": {"values": [{}]}, "mark": {"type": "point", "opacity": 0}, "width": 1, "height": 1},
        {
          "width": 495, "height": 246, "view": {"stroke": "#000"},
          "data": {"name": "p10"},
          "encoding": {"x": {"field": "w", "type": "ordinal", "sort": null, "scale": {"paddingInner": 0.08, "paddingOuter": 0.3},
            "axis": {"title": null, "labelAngle": 270, "labelFont": "DejaVu Sans", "labelFontSize": 11, "labelPadding": 3, "ticks": false, "domainColor": "#000", "labelExpr": "round(datum.index*30)%2==1 ? datum.label : ''", "grid": true, "gridColor": "#a0a0a0", "gridOpacity": {"condition": {"test": "round(datum.index*30)%2==1", "value": 1}, "value": 0}}}},
          "layer": [
            {"mark": {"type": "bar", "color": "#6464ee"}, "encoding": {"y": {"field": "b", "type": "quantitative", "scale": {"domain": [0, 6], "nice": false}, "axis": {"title": null, "labels": false, "ticks": false, "domain": false, "grid": true, "gridColor": "#a0a0a0", "values": [1, 2, 3, 4, 5]}}}},
            {"mark": {"type": "line", "color": "#cc1122", "strokeWidth": 1.5}, "encoding": {"y": {"field": "r", "type": "quantitative"}}},
            {"transform": [{"filter": "datum.w=='10/06'"}], "mark": {"type": "text", "align": "left", "dx": 8, "font": "DejaVu Sans", "fontSize": 11, "stroke": "#fff", "strokeWidth": 5}, "encoding": {"y": {"datum": 5}, "text": {"value": "25%"}}},
            {"transform": [{"filter": "datum.w=='10/06'"}], "mark": {"type": "text", "align": "left", "dx": 8, "font": "DejaVu Sans", "fontSize": 11, "color": "#cc2222"}, "encoding": {"y": {"datum": 5}, "text": {"value": "25%"}}},
            {"transform": [{"filter": "datum.w=='04/20'"}], "mark": {"type": "text", "align": "left", "dx": -3, "font": "DejaVu Sans", "fontSize": 11, "stroke": "#fff", "strokeWidth": 5}, "encoding": {"y": {"datum": 5}, "text": {"value": "3750"}}},
            {"transform": [{"filter": "datum.w=='04/20'"}], "mark": {"type": "text", "align": "left", "dx": -3, "font": "DejaVu Sans", "fontSize": 11, "color": "#7777cc"}, "encoding": {"y": {"datum": 5}, "text": {"value": "3750"}}},
            {"transform": [{"filter": "datum.w=='10/13'"}], "mark": {"type": "text", "align": "left", "baseline": "top", "dx": -5, "font": "DejaVu Sans Mono", "fontSize": 13, "lineHeight": 16, "stroke": "#fff", "strokeWidth": 14, "strokeJoin": "round"}, "encoding": {"y": {"datum": 4.34}, "text": {"value": ["Canada", "2001/2"]}}},
            {"transform": [{"filter": "datum.w=='10/13'"}], "mark": {"type": "text", "align": "left", "baseline": "top", "dx": -5, "font": "DejaVu Sans Mono", "fontSize": 13, "lineHeight": 16, "color": "#000"}, "encoding": {"y": {"datum": 4.34}, "text": {"value": ["Canada", "2001/2"]}}}
          ]
        }
      ],
      "spacing": 0
    },
    {"data": {"values": [{}]}, "mark": {"type": "point", "opacity": 0}, "width": 1, "height": 1},
    {
      "hconcat": [
        {
          "vconcat": [
            {"data": {"values": [{}]}, "mark": {"type": "point", "opacity": 0}, "width": 1, "height": 10},
            {
              "width": 412, "height": 215,
              "data": {"name": "p11"},
              "encoding": {"x": {"field": "w", "type": "ordinal", "sort": null, "scale": {"paddingInner": 0.3, "paddingOuter": 0.15},
                "axis": {"title": null, "labelAngle": 270, "labelFont": "DejaVu Sans", "labelFontSize": 11, "labelPadding": 3, "ticks": false, "domainColor": "#000", "labelExpr": "round(datum.index*37)%2==1 ? datum.label : ''", "grid": true, "gridColor": "#a0a0a0", "gridOpacity": {"condition": {"test": "round(datum.index*37)%2==1", "value": 1}, "value": 0}}}},
              "layer": [
                {"mark": {"type": "bar", "color": "#6464ee"}, "encoding": {"y": {"field": "b", "type": "quantitative", "scale": {"domain": [0, 5.25], "nice": false}, "axis": {"title": null, "labels": false, "ticks": false, "domain": false, "grid": true, "gridColor": "#a0a0a0", "values": [1, 2, 3, 4, 5]}}}},
                {"mark": {"type": "line", "color": "#cc1122", "strokeWidth": 1.5}, "encoding": {"y": {"field": "r", "type": "quantitative"}}},
                {"transform": [{"filter": "datum.w=='08/31'"}], "mark": {"type": "text", "align": "left", "dx": 1, "font": "DejaVu Sans", "fontSize": 11, "stroke": "#fff", "strokeWidth": 5}, "encoding": {"y": {"datum": 5}, "text": {"value": "25%"}}},
                {"transform": [{"filter": "datum.w=='08/31'"}], "mark": {"type": "text", "align": "left", "dx": 1, "font": "DejaVu Sans", "fontSize": 11, "color": "#cc2222"}, "encoding": {"y": {"datum": 5}, "text": {"value": "25%"}}},
                {"transform": [{"filter": "datum.w=='04/26'"}], "mark": {"type": "text", "align": "left", "dx": -5, "font": "DejaVu Sans", "fontSize": 11, "stroke": "#fff", "strokeWidth": 5}, "encoding": {"y": {"datum": 5}, "text": {"value": "3750"}}},
                {"transform": [{"filter": "datum.w=='04/26'"}], "mark": {"type": "text", "align": "left", "dx": -5, "font": "DejaVu Sans", "fontSize": 11, "color": "#7777cc"}, "encoding": {"y": {"datum": 5}, "text": {"value": "3750"}}},
                {"transform": [{"filter": "datum.w=='09/28'"}], "mark": {"type": "text", "align": "left", "baseline": "top", "font": "DejaVu Sans", "fontSize": 13, "lineHeight": 16, "stroke": "#fff", "strokeWidth": 14, "strokeJoin": "round"}, "encoding": {"y": {"datum": 3.69}, "text": {"value": ["Canada", "2002/3"]}}},
                {"transform": [{"filter": "datum.w=='09/28'"}], "mark": {"type": "text", "align": "left", "baseline": "top", "font": "DejaVu Sans", "fontSize": 13, "lineHeight": 16, "color": "#000"}, "encoding": {"y": {"datum": 3.69}, "text": {"value": ["Canada", "2002/3"]}}}
              ]
            }
          ],
          "spacing": 0
        },
        {"data": {"values": [{}]}, "mark": {"type": "point", "opacity": 0}, "width": 15, "height": 1},
        {
          "width": 364, "height": 246, "view": {"stroke": "#000"},
          "data": {"name": "p12"},
          "encoding": {"x": {"field": "w", "type": "ordinal", "sort": null, "scale": {"paddingInner": 0.25, "paddingOuter": 0.15},
            "axis": {"title": null, "labelAngle": 270, "labelFont": "DejaVu Sans", "labelFontSize": 11, "labelPadding": 3, "ticks": false, "domainColor": "#000", "labelExpr": "round(datum.index*37)%2==1 ? datum.label : ''", "grid": true, "gridColor": "#a0a0a0", "gridOpacity": {"condition": {"test": "round(datum.index*37)%2==1", "value": 1}, "value": 0}}}},
          "layer": [
            {"mark": {"type": "bar", "color": "#6464ee"}, "encoding": {"y": {"field": "b", "type": "quantitative", "scale": {"domain": [0, 9], "nice": false}, "axis": {"title": null, "labels": false, "ticks": false, "domain": false, "grid": true, "gridColor": "#a0a0a0", "values": [1, 2, 3, 4, 5, 6, 7, 8]}}}},
            {"mark": {"type": "line", "color": "#cc1122", "strokeWidth": 1.5}, "encoding": {"y": {"field": "r", "type": "quantitative"}}},
            {"transform": [{"filter": "datum.w=='08/30'"}], "mark": {"type": "text", "align": "left", "dx": 6, "font": "DejaVu Sans", "fontSize": 11, "stroke": "#fff", "strokeWidth": 5}, "encoding": {"y": {"datum": 8}, "text": {"value": "40%"}}},
            {"transform": [{"filter": "datum.w=='08/30'"}], "mark": {"type": "text", "align": "left", "dx": 6, "font": "DejaVu Sans", "fontSize": 11, "color": "#cc2222"}, "encoding": {"y": {"datum": 8}, "text": {"value": "40%"}}},
            {"transform": [{"filter": "datum.w=='04/03'"}], "mark": {"type": "text", "align": "left", "dx": 2, "font": "DejaVu Sans", "fontSize": 11, "stroke": "#fff", "strokeWidth": 5}, "encoding": {"y": {"datum": 8}, "text": {"value": "4184"}}},
            {"transform": [{"filter": "datum.w=='04/03'"}], "mark": {"type": "text", "align": "left", "dx": 2, "font": "DejaVu Sans", "fontSize": 11, "color": "#7777cc"}, "encoding": {"y": {"datum": 8}, "text": {"value": "4184"}}},
            {"transform": [{"filter": "datum.w=='09/06'"}], "mark": {"type": "text", "align": "left", "baseline": "top", "font": "DejaVu Sans", "fontSize": 13, "lineHeight": 16, "stroke": "#fff", "strokeWidth": 14, "strokeJoin": "round"}, "encoding": {"y": {"datum": 6.18}, "text": {"value": ["Canada", "2003/4"]}}},
            {"transform": [{"filter": "datum.w=='09/06'"}], "mark": {"type": "text", "align": "left", "baseline": "top", "font": "DejaVu Sans", "fontSize": 13, "lineHeight": 16, "color": "#000"}, "encoding": {"y": {"datum": 6.18}, "text": {"value": ["Canada", "2003/4"]}}}
          ]
        }
      ],
      "spacing": 0
    }
  ],
  "spacing": 0
}
